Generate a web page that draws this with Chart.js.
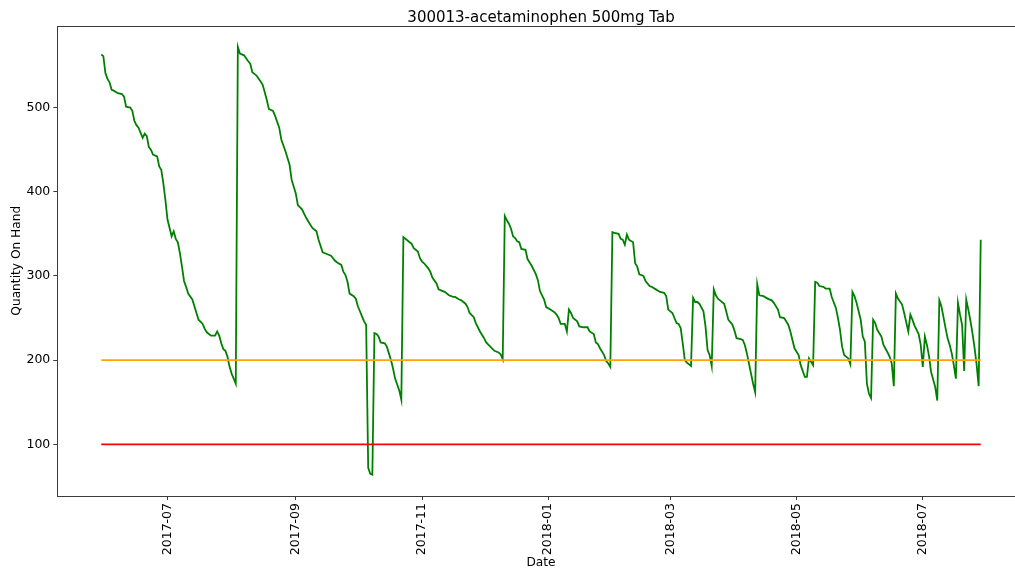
<!DOCTYPE html>
<html>
<head>
<meta charset="utf-8">
<title>300013-acetaminophen 500mg Tab</title>
<script src="https://cdn.jsdelivr.net/npm/chart.js@4.4.1/dist/chart.umd.min.js"></script>
<style>
  html, body { margin: 0; padding: 0; background: #fff; overflow: hidden; width: 1015px; height: 577px; }
  canvas { display: block; }
</style>
</head>
<body>
<canvas id="stock" width="1030" height="577"></canvas>
<script>
// Daily stock on hand for one item, with its reorder point and minimum level.
const chartTitle = '300013-acetaminophen 500mg Tab';
const xAxisTitle = 'Date';
const yAxisTitle = 'Quantity On Hand';

const dates = [
  '2017-05-30','2017-05-31','2017-06-01','2017-06-02','2017-06-03','2017-06-04','2017-06-05','2017-06-07','2017-06-09','2017-06-10',
  '2017-06-11','2017-06-13','2017-06-14','2017-06-15','2017-06-16','2017-06-17','2017-06-19','2017-06-20','2017-06-21','2017-06-22',
  '2017-06-23','2017-06-24','2017-06-26','2017-06-27','2017-06-28','2017-06-29','2017-06-30',
  '2017-07-01','2017-07-03','2017-07-04','2017-07-05','2017-07-06','2017-07-07','2017-07-08','2017-07-09','2017-07-10','2017-07-11',
  '2017-07-13','2017-07-14','2017-07-15','2017-07-16','2017-07-18','2017-07-19','2017-07-20','2017-07-22','2017-07-24','2017-07-25',
  '2017-07-26','2017-07-27','2017-07-28','2017-07-29','2017-07-30','2017-07-31',
  '2017-08-01','2017-08-03','2017-08-04','2017-08-05','2017-08-07','2017-08-09','2017-08-10','2017-08-11','2017-08-12','2017-08-13',
  '2017-08-15','2017-08-16','2017-08-17','2017-08-18','2017-08-19','2017-08-21','2017-08-22','2017-08-24','2017-08-25','2017-08-27',
  '2017-08-29','2017-08-30',
  '2017-09-01','2017-09-02','2017-09-04','2017-09-06','2017-09-07','2017-09-09','2017-09-11','2017-09-12','2017-09-14','2017-09-16',
  '2017-09-18','2017-09-20','2017-09-21','2017-09-23','2017-09-24','2017-09-25','2017-09-26','2017-09-27','2017-09-29','2017-09-30',
  '2017-10-01','2017-10-02','2017-10-03','2017-10-04','2017-10-05','2017-10-06','2017-10-07','2017-10-08','2017-10-09','2017-10-10',
  '2017-10-11','2017-10-12','2017-10-14','2017-10-15','2017-10-16','2017-10-17','2017-10-18','2017-10-19','2017-10-21','2017-10-22',
  '2017-10-23','2017-10-25','2017-10-26','2017-10-27','2017-10-28','2017-10-30','2017-10-31',
  '2017-11-01','2017-11-02','2017-11-04','2017-11-05','2017-11-06','2017-11-08','2017-11-09','2017-11-11','2017-11-12','2017-11-14',
  '2017-11-16','2017-11-17','2017-11-19','2017-11-20','2017-11-22','2017-11-23','2017-11-24','2017-11-26','2017-11-27','2017-11-29',
  '2017-12-01','2017-12-02','2017-12-04','2017-12-06','2017-12-08','2017-12-09','2017-12-10','2017-12-11','2017-12-12','2017-12-13',
  '2017-12-14','2017-12-15','2017-12-16','2017-12-17','2017-12-18','2017-12-19','2017-12-21','2017-12-22','2017-12-23','2017-12-24',
  '2017-12-26','2017-12-27','2017-12-28','2017-12-30','2017-12-31',
  '2018-01-02','2018-01-04','2018-01-05','2018-01-06','2018-01-07','2018-01-09','2018-01-10','2018-01-11','2018-01-12','2018-01-13',
  '2018-01-15','2018-01-16','2018-01-18','2018-01-20','2018-01-21','2018-01-23','2018-01-24','2018-01-25','2018-01-26','2018-01-28',
  '2018-01-29','2018-01-30','2018-01-31',
  '2018-02-01','2018-02-02','2018-02-04','2018-02-05','2018-02-06','2018-02-07','2018-02-08','2018-02-09','2018-02-11','2018-02-12',
  '2018-02-13','2018-02-14','2018-02-16','2018-02-17','2018-02-19','2018-02-20','2018-02-22','2018-02-24','2018-02-26','2018-02-27',
  '2018-02-28',
  '2018-03-02','2018-03-03','2018-03-04','2018-03-05','2018-03-06','2018-03-07','2018-03-08','2018-03-09','2018-03-11','2018-03-12',
  '2018-03-13','2018-03-14','2018-03-15','2018-03-17','2018-03-18','2018-03-19','2018-03-20','2018-03-21','2018-03-22','2018-03-23',
  '2018-03-24','2018-03-25','2018-03-27','2018-03-28','2018-03-29','2018-03-31',
  '2018-04-01','2018-04-02','2018-04-04','2018-04-05','2018-04-06','2018-04-07','2018-04-08','2018-04-09','2018-04-10','2018-04-11',
  '2018-04-12','2018-04-13','2018-04-15','2018-04-17','2018-04-19','2018-04-20','2018-04-22','2018-04-23','2018-04-25','2018-04-27',
  '2018-04-28','2018-04-30',
  '2018-05-01','2018-05-02','2018-05-03','2018-05-05','2018-05-06','2018-05-07','2018-05-08','2018-05-09','2018-05-10','2018-05-11',
  '2018-05-12','2018-05-14','2018-05-15','2018-05-17','2018-05-18','2018-05-20','2018-05-21','2018-05-22','2018-05-23','2018-05-24',
  '2018-05-26','2018-05-27','2018-05-28','2018-05-29','2018-05-30','2018-05-31',
  '2018-06-01','2018-06-02','2018-06-03','2018-06-04','2018-06-05','2018-06-06','2018-06-07','2018-06-08','2018-06-09','2018-06-11',
  '2018-06-12','2018-06-14','2018-06-15','2018-06-16','2018-06-17','2018-06-18','2018-06-19','2018-06-21','2018-06-22','2018-06-24',
  '2018-06-25','2018-06-26','2018-06-27','2018-06-29','2018-06-30',
  '2018-07-01','2018-07-02','2018-07-03','2018-07-04','2018-07-05','2018-07-07','2018-07-08','2018-07-09','2018-07-10','2018-07-11',
  '2018-07-12','2018-07-13','2018-07-14','2018-07-15','2018-07-16','2018-07-17','2018-07-18','2018-07-19','2018-07-20','2018-07-21',
  '2018-07-22','2018-07-23','2018-07-24','2018-07-25','2018-07-26','2018-07-27','2018-07-28','2018-07-29'
];

const onHand = [
  563,561,541,534,530,521,520,517,516,513, 501,500,496,484,479,476,464,469,466,453, 450,444,442,430,426,410,390,
  367,347,353,344,340,327,311,294,287,279, 272,264,256,248,243,237,233,229,229,234, 229,220,213,211,204,192,
  184,172,572,564,562,555,552,542,540,538, 531,527,518,509,498,496,490,476,462,448, 432,414,
  398,384,379,369,365,357,353,343,328,326, 324,318,316,313,305,301,293,279,276,273,
  264,258,252,246,242,72,65,64,232,231, 228,221,220,216,208,200,190,178,164,153, 346,342,340,338,333,329,321,
  317,315,309,305,298,291,284,282,281,277, 275,275,272,271,267,263,256,251,244,234,
  226,221,216,211,209,207,201,371,366,362, 356,347,345,341,340,332,331,320,316,312, 302,295,282,272,263,
  260,257,254,250,243,243,234,260,256,250, 246,240,239,239,234,231,221,219,214,206, 199,196,192,
  352,351,350,344,343,337,349,343,340,315, 311,302,300,294,288,287,284,281,280,276, 260,
  256,250,244,243,238,220,200,197,193,274, 269,269,267,258,240,212,206,193,284,277, 273,271,267,258,248,242,
  235,226,225,224,218,208,196,184,172,162, 290,277,276,273,271,268,260,251,250,242, 234,214,
  210,206,194,180,180,202,198,194,293,292, 288,287,285,285,275,262,250,236,216,206, 202,195,281,276,268,258,
  248,228,222,172,160,155,248,244,236,228, 218,209,204,196,169,279,273,266,256,234, 254,248,241,231,218,
  192,228,218,205,186,168,152,271,264,251, 238,226,218,208,194,178,268,254,242,187, 272,260,247,232,215,195,169,343
];

const reorderLevel = 200;
const minimumLevel = 100;

const yTicks = [100, 200, 300, 400, 500];
const xTickLabels = ['2017-07', '2017-09', '2017-11', '2018-01', '2018-03', '2018-05', '2018-07'];

// ---- helpers: dates are placed on a linear axis measured in days ----
const DAY_MS = 864e5;
const toDay = s => Date.UTC(+s.slice(0, 4), +s.slice(5, 7) - 1, +s.slice(8, 10)) / DAY_MS;

const xs = dates.map(toDay);
const firstDay = xs[0];
const lastDay = xs[xs.length - 1];
const xMargin = (lastDay - firstDay) * 0.05;
const yLow = Math.min(...onHand, minimumLevel);
const yHigh = Math.max(...onHand, reorderLevel);
const yMargin = (yHigh - yLow) * 0.05;

const xTickDays = xTickLabels.map(m => toDay(m + '-01'));
const labelForDay = {};
xTickDays.forEach((d, i) => { labelForDay[d] = xTickLabels[i]; });

const FONT = "'DejaVu Sans', 'Liberation Sans', sans-serif";
Chart.defaults.font.family = FONT;
Chart.defaults.color = '#000';

// Frame round the plot area plus the centred title above it
const framePlugin = {
  id: 'frameAndTitle',
  afterDraw(chart) {
    const { ctx, chartArea: a } = chart;
    ctx.save();
    ctx.strokeStyle = '#3a3a3a';
    ctx.lineWidth = 1;
    const l = Math.round(a.left) + 0.5, t = Math.round(a.top) + 0.5;
    const r = Math.round(a.right) + 0.5, b = Math.round(a.bottom) + 0.5;
    ctx.strokeRect(l, t, r - l, b - t);
    ctx.fillStyle = '#000';
    ctx.font = '15px ' + FONT;
    ctx.textAlign = 'center';
    ctx.textBaseline = 'alphabetic';
    ctx.fillText(chartTitle, (a.left + a.right) / 2, 21.5);
    ctx.restore();
  }
};

const lineStyle = { pointRadius: 0, pointHoverRadius: 0, borderWidth: 1.8, tension: 0, fill: false };

new Chart(document.getElementById('stock'), {
  type: 'line',
  data: {
    datasets: [
      Object.assign({
        label: 'On hand',
        data: xs.map((x, i) => ({ x, y: onHand[i] })),
        borderColor: '#008000',
        order: 3
      }, lineStyle),
      Object.assign({
        label: 'Reorder point',
        data: [{ x: firstDay, y: reorderLevel }, { x: lastDay, y: reorderLevel }],
        borderColor: '#ffa500',
        order: 2
      }, lineStyle),
      Object.assign({
        label: 'Minimum',
        data: [{ x: firstDay, y: minimumLevel }, { x: lastDay, y: minimumLevel }],
        borderColor: '#ff0000',
        order: 1
      }, lineStyle)
    ]
  },
  options: {
    responsive: false,
    animation: false,
    events: [],
    layout: { padding: { top: 25.5, right: 5.3, left: 0, bottom: 0 } },
    plugins: {
      legend: { display: false },
      tooltip: { enabled: false },
      title: { display: false }
    },
    scales: {
      x: {
        type: 'linear',
        min: firstDay - xMargin,
        max: lastDay + xMargin,
        afterBuildTicks: s => { s.ticks = xTickDays.map(v => ({ value: v })); },
        afterFit: s => { s.height = 81; },
        ticks: {
          autoSkip: false,
          minRotation: 90,
          maxRotation: 90,
          padding: 3,
          font: { size: 12.5 },
          color: '#000',
          callback: v => labelForDay[v] || ''
        },
        grid: { drawOnChartArea: false, drawTicks: true, tickLength: 4, tickWidth: 1, tickColor: '#3a3a3a' },
        border: { display: false },
        title: { display: true, text: xAxisTitle, font: { size: 12.2 }, color: '#000', padding: { top: 0, bottom: 6.8 } }
      },
      y: {
        type: 'linear',
        min: yLow - yMargin,
        max: yHigh + yMargin,
        afterBuildTicks: s => { s.ticks = yTicks.map(v => ({ value: v })); },
        afterFit: s => { s.width = 57.3; },
        ticks: { padding: 3, font: { size: 12.5 }, color: '#000', callback: v => String(v) },
        grid: { drawOnChartArea: false, drawTicks: true, tickLength: 4, tickWidth: 1, tickColor: '#3a3a3a' },
        border: { display: false },
        title: { display: true, text: yAxisTitle, font: { size: 12.2 }, color: '#000', padding: { top: 9.5, bottom: 0 } }
      }
    }
  },
  plugins: [framePlugin]
});
</script>
</body>
</html>
